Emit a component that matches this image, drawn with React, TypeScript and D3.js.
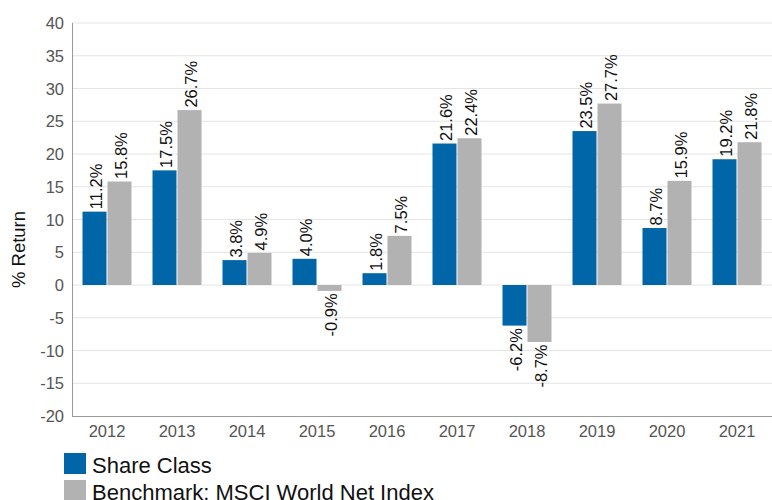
import React from "react";
import * as d3 from "d3";

const years = ["2012","2013","2014","2015","2016","2017","2018","2019","2020","2021"];
const shareClass = [11.2, 17.5, 3.8, 4.0, 1.8, 21.6, -6.2, 23.5, 8.7, 19.2];
const benchmark = [15.8, 26.7, 4.9, -0.9, 7.5, 22.4, -8.7, 27.7, 15.9, 21.8];
const yTicks = [-20, -15, -10, -5, 0, 5, 10, 15, 20, 25, 30, 35, 40];
const seriesNames = ["Share Class", "Benchmark: MSCI World Net Index"];
const colors = ["#0066a8", "#b2b2b2"];

export default function App() {
  const W = 772, H = 500;
  const left = 72, right = 772, top = 23, bottom = 416;
  const x = d3.scaleBand<string>().domain(years).range([left, right]).paddingInner(0.3).paddingOuter(0.15);
  const y = d3.scaleLinear().domain([-20, 40]).range([bottom, top]);
  const inner = d3.scaleBand<string>().domain(["a", "b"]).range([0, x.bandwidth()]).paddingInner(0.04);
  const series = [shareClass, benchmark];
  const font = "'Liberation Sans', Arial, sans-serif";
  return (
    <svg width={W} height={H} style={{ position: "absolute", left: 0, top: 0 }} fontFamily={font}>
      {yTicks.map(t => (
        <g key={t}>
          {t !== -20 && <line x1={left} x2={right} y1={y(t)} y2={y(t)} stroke="#e4e4e4" strokeWidth={1} />}
          <text x={left - 8} y={y(t)} textAnchor="end" dominantBaseline="central" fontSize={16.5} fill="#555">{t}</text>
        </g>
      ))}
      <line x1={left + 0.5} x2={left + 0.5} y1={top} y2={bottom} stroke="#999" />
      <line x1={left} x2={right} y1={bottom + 0.5} y2={bottom + 0.5} stroke="#999" />
      {years.map(yr => (
        <text key={yr} x={(x(yr) as number) + x.bandwidth() / 2} y={bottom + 15} textAnchor="middle" dominantBaseline="central" fontSize={16.5} fill="#555">{yr}</text>
      ))}
      {years.map((yr, i) =>
        series.map((s, si) => {
          const v = s[i];
          const bx = (x(yr) as number) + (inner(si === 0 ? "a" : "b") as number);
          const bw = inner.bandwidth();
          const y0 = y(0), y1 = y(v);
          const cx = bx + bw / 2;
          const ly = v >= 0 ? y1 - 2.5 : y1 + 2.5;
          return (
            <g key={yr + si}>
              <rect x={bx} y={Math.min(y0, y1)} width={bw} height={Math.abs(y1 - y0)} fill={colors[si]} />
              <text transform={`translate(${cx + 1},${ly}) rotate(-90)`} textAnchor={v >= 0 ? "start" : "end"} dominantBaseline="central" fontSize={16.5} fill="#111">{v.toFixed(1)}%</text>
            </g>
          );
        })
      )}
      <text transform={`translate(18,${(top + bottom) / 2 + 30}) rotate(-90)`} textAnchor="middle" dominantBaseline="central" fontSize={18.5} fill="#111">% Return</text>
      {seriesNames.map((n, i) => (
        <g key={n}>
          <rect x={64} y={453 + i * 27} width={22} height={21} fill={colors[i]} />
          <text x={92} y={473 + i * 27} fontSize={22} fill="#111">{n}</text>
        </g>
      ))}
    </svg>
  );
}
